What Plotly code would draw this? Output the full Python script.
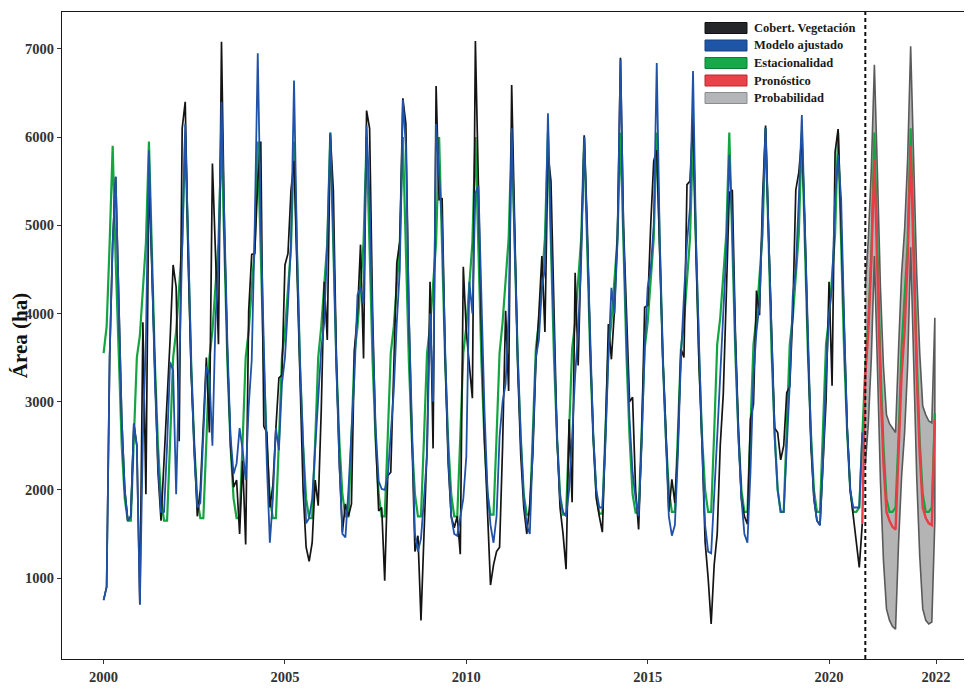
import plotly.graph_objects as go

# ---------------- data (monthly, Jan 2000 - Dec 2020 observed) ----------------
cobertura = [
    750, 900, 3500, 4800, 5550, 4000, 2800, 2000, 1650, 1700, 2750, 2500,   # 2000
    700, 3900, 1950, 5600, 4400, 3100, 2200, 1650, 2300, 3100, 3700, 4550,  # 2001
    4300, 2550, 6100, 6400, 4600, 3300, 2400, 1700, 2000, 2800, 3500, 2650, # 2002
    5700, 4700, 3650, 7080, 4900, 3500, 2500, 2030, 2110, 1500, 2330, 1380, # 2003
    4030, 4670, 4680, 5500, 5950, 2720, 2650, 1800, 2050, 2700, 3270, 3300, # 2004
    4550, 4680, 5400, 5730, 4400, 3000, 2000, 1350, 1190, 1400, 2110, 1820, # 2005
    2900, 4360, 3700, 6030, 5400, 3500, 2300, 1520, 1840, 1700, 1840, 3600, # 2006
    4000, 4780, 3490, 6300, 6100, 4000, 2600, 1760, 1800, 970, 2160, 2200,  # 2007
    3500, 4570, 4820, 6440, 6150, 4000, 2600, 1300, 1480, 520, 1500, 2470,  # 2008
    4360, 2470, 6580, 5290, 5300, 3500, 2300, 1700, 1570, 1700, 1270, 4530, # 2009
    3790, 3400, 3040, 7090, 5300, 3800, 2600, 1700, 920, 1150, 1300, 1350,  # 2010
    2500, 4030, 3120, 6590, 4800, 3400, 2400, 1800, 1500, 1840, 2400, 3440, # 2011
    4000, 4650, 3790, 5820, 5500, 3900, 2600, 1800, 1500, 1100, 2800, 1860, # 2012
    4460, 3410, 4700, 6020, 5000, 3600, 2600, 1900, 1700, 1520, 2600, 3880, # 2013
    3480, 4030, 4900, 6900, 5000, 4000, 3000, 3050, 2000, 1550, 2600, 4070, # 2014
    4090, 5000, 5730, 5850, 4600, 3500, 2700, 1750, 2120, 1850, 2500, 3600, # 2015
    3500, 5460, 5500, 6240, 4700, 3400, 2500, 1410, 1000, 480, 1150, 1500,  # 2016
    2500, 3080, 4200, 5370, 5400, 3800, 2700, 1900, 1700, 1610, 2800, 2970, # 2017
    4260, 3980, 5300, 6130, 4900, 3800, 2700, 2650, 2340, 2500, 3100, 3170, # 2018
    4000, 5400, 5600, 6000, 5000, 3700, 2500, 1900, 1650, 1600, 2300, 3000, # 2019
    4360, 3180, 5830, 6090, 5000, 3700, 2700, 2000, 1700, 1400, 1120, 1620, # 2020
]

modelo = [
    750, 900, 3500, 4800, 5550, 4000, 2800, 2000, 1650, 1700, 2750, 2500,   # 2000
    700, 2600, 3700, 5850, 4600, 3200, 2300, 1750, 1750, 2500, 3450, 3350,  # 2001
    1950, 3400, 4800, 6150, 4800, 3400, 2400, 1800, 1850, 2600, 3400, 3300, # 2002
    2500, 3900, 4600, 6400, 4900, 3600, 2600, 2180, 2300, 2700, 2450, 2110, # 2003
    2950, 3470, 5000, 6950, 5000, 3600, 2300, 1400, 1900, 2700, 2450, 3200, # 2004
    3500, 4100, 4800, 6640, 4700, 3400, 2400, 1620, 1680, 1900, 2470, 3000, # 2005
    3600, 3900, 4800, 6050, 4900, 3400, 2300, 1500, 1460, 2000, 2600, 3300, # 2006
    4210, 4300, 4110, 6130, 5300, 3800, 2700, 2100, 2010, 2000, 2150, 2600, # 2007
    3120, 3900, 4500, 6420, 5900, 4000, 2600, 1500, 1300, 1450, 1900, 2400, # 2008
    4000, 3000, 6150, 5600, 5000, 3600, 2400, 1700, 1500, 1480, 1700, 1900, # 2009
    2380, 4360, 4000, 5360, 5450, 4000, 2900, 2000, 1600, 1400, 1700, 2600, # 2010
    3000, 3200, 4000, 6100, 4800, 3500, 2600, 1900, 1600, 1500, 2500, 3500, # 2011
    3700, 4300, 4500, 6270, 4900, 3600, 2600, 1900, 1750, 1700, 2000, 2600, # 2012
    3300, 3800, 4600, 6000, 4800, 3600, 2600, 2000, 1800, 1800, 2500, 3500, # 2013
    4290, 4000, 4800, 6880, 4900, 3700, 2800, 2200, 1900, 1700, 2500, 3600, # 2014
    4300, 4500, 5000, 6840, 4800, 3500, 2500, 1700, 1480, 1600, 2400, 3500, # 2015
    4200, 4800, 5200, 6750, 4800, 3500, 2500, 1600, 1300, 1280, 1900, 2600, # 2016
    3300, 4000, 4700, 5800, 5000, 3700, 2600, 1900, 1500, 1400, 2200, 3300, # 2017
    3800, 4100, 5000, 6100, 4900, 3700, 2600, 2000, 1750, 1750, 2400, 3200, # 2018
    4200, 4500, 5300, 6250, 5000, 3700, 2600, 1900, 1650, 1600, 2300, 3300, # 2019
    4000, 4300, 5300, 5800, 5300, 3900, 2700, 2000, 1800, 1800, 1800, 2650, # 2020
]

estacionalidad = [
    3550, 3850, 4800, 5900, 4600, 3400, 2500, 1900, 1650, 1650, 2550, 3500, # 2000
    3750, 4300, 4800, 5950, 4600, 3400, 2500, 1900, 1650, 1650, 2550, 3500, # 2001
    3800, 4300, 4800, 6000, 4650, 3400, 2500, 1900, 1680, 1680, 2550, 3500, # 2002
    3800, 4300, 4800, 6000, 4650, 3400, 2500, 1900, 1680, 1680, 2550, 3500, # 2003
    3800, 4300, 4750, 5950, 4650, 3400, 2500, 1900, 1680, 1680, 2550, 3500, # 2004
    3800, 4300, 4750, 5950, 4650, 3400, 2500, 1900, 1680, 1680, 2550, 3500, # 2005
    3850, 4350, 4800, 6050, 4700, 3450, 2550, 1950, 1700, 1700, 2600, 3550, # 2006
    3850, 4350, 4800, 6000, 4700, 3450, 2550, 1950, 1700, 1700, 2600, 3550, # 2007
    3850, 4350, 4800, 6000, 4700, 3450, 2550, 1950, 1700, 1700, 2600, 3550, # 2008
    3850, 4350, 4800, 6000, 4700, 3450, 2550, 1950, 1700, 1700, 2600, 3550, # 2009
    3850, 4350, 4800, 6000, 4700, 3450, 2550, 1950, 1720, 1720, 2600, 3550, # 2010
    3900, 4400, 4850, 6050, 4750, 3500, 2600, 1950, 1720, 1720, 2650, 3600, # 2011
    3900, 4400, 4850, 6050, 4750, 3500, 2600, 1950, 1720, 1720, 2650, 3600, # 2012
    3900, 4400, 4850, 6000, 4750, 3500, 2600, 1950, 1730, 1730, 2650, 3600, # 2013
    3900, 4400, 4850, 6050, 4750, 3500, 2600, 1950, 1740, 1740, 2650, 3600, # 2014
    3900, 4400, 4850, 6050, 4750, 3500, 2600, 2000, 1750, 1750, 2650, 3600, # 2015
    3900, 4400, 4850, 6000, 4750, 3500, 2600, 2000, 1750, 1750, 2650, 3650, # 2016
    3950, 4450, 4900, 6050, 4800, 3550, 2650, 2000, 1750, 1750, 2700, 3650, # 2017
    3950, 4450, 4900, 6100, 4800, 3550, 2650, 2000, 1750, 1750, 2700, 3650, # 2018
    3950, 4450, 4900, 6050, 4800, 3550, 2650, 2000, 1750, 1750, 2700, 3650, # 2019
    3950, 4450, 4900, 6050, 4800, 3550, 2650, 2000, 1750, 1750, 1800, 2600, # 2020
    3400, 3900, 4700, 6050, 4700, 3450, 2500, 1900, 1750, 1750, 1800, 2600, # 2021
    3600, 4200, 4800, 6100, 4750, 3500, 2550, 1950, 1750, 1750, 1800, 2870, # 2022
]

# forecast: Dec 2020 (last observation) then Jan 2021 - Dec 2022
pronostico = [
    1620,
    3300, 3800, 4600, 5750, 4500, 3200, 2300, 1750, 1650, 1580, 1550, 2500, # 2021
    3300, 3800, 4600, 5900, 4600, 3300, 2400, 1800, 1680, 1620, 1600, 2800, # 2022
]
prob_sup = [
    4300, 4850, 5650, 6820, 5600, 4300, 3400, 2850, 2750, 2700, 2650, 3600, # 2021
    4450, 4950, 5750, 7030, 5750, 4450, 3550, 2950, 2850, 2780, 2760, 3950, # 2022
]
prob_inf = [
    2280, 2750, 3500, 4650, 3400, 2100, 1200, 650, 520, 450, 420, 1400,     # 2021
    2150, 2650, 3400, 4750, 3450, 2150, 1250, 650, 520, 480, 500, 1650,     # 2022
]

x_tick_vals = [2000, 2005, 2010, 2015, 2020, 2022.95]
x_tick_text = ["2000", "2005", "2010", "2015", "2020", "2022"]
y_tick_vals = [1000, 2000, 3000, 4000, 5000, 6000, 7000]
forecast_start = 2021.0

legend_names = ["Cobert. Vegetación", "Modelo ajustado", "Estacionalidad",
                "Pronóstico", "Probabilidad"]
legend_fill = ["#25262a", "#1f55a6", "#16a84a", "#e8434b", "#b3b5b8"]
legend_edge = ["#111111", "#16407f", "#0d7d35", "#b8282f", "#8a8c8f"]

# ---------------- time coordinates ----------------
t_obs = [2000 + i / 12 for i in range(len(cobertura))]
t_seas = [2000 + i / 12 for i in range(len(estacionalidad))]
t_fc = [2000 + (len(cobertura) - 1 + i) / 12 for i in range(len(pronostico))]
t_band = t_fc[1:]

C_BLACK = "#141414"
C_BLUE = "#2052a8"
C_GREEN = "#13a53f"
C_RED = "#ea3c46"

fig = go.Figure()

# probability band
fig.add_trace(go.Scatter(
    x=t_band + t_band[::-1], y=prob_sup + prob_inf[::-1],
    fill="toself", fillcolor="#b4b4b4", mode="lines",
    line=dict(color="#5a5a5a", width=1.6), name="Probabilidad",
    showlegend=False, hoverinfo="skip"))

fig.add_trace(go.Scatter(x=t_seas, y=estacionalidad, mode="lines",
                         line=dict(color=C_GREEN, width=2.2),
                         name="Estacionalidad", showlegend=False))
fig.add_trace(go.Scatter(x=t_obs, y=cobertura, mode="lines",
                         line=dict(color=C_BLACK, width=1.7),
                         name="Cobert. Vegetación", showlegend=False))
fig.add_trace(go.Scatter(x=t_obs, y=modelo, mode="lines",
                         line=dict(color=C_BLUE, width=1.8),
                         name="Modelo ajustado", showlegend=False))
fig.add_trace(go.Scatter(x=t_fc, y=pronostico, mode="lines",
                         line=dict(color=C_RED, width=2.4),
                         name="Pronóstico", showlegend=False))

# forecast start dashed line
fig.add_shape(type="line", x0=forecast_start, x1=forecast_start, xref="x",
              y0=0, y1=1, yref="paper",
              line=dict(color="#111111", width=2, dash="4px,3px"), layer="above")

# page body adds an 8px margin, so the figure is sized/placed to compensate
OFF = 8
FIG_W, FIG_H = 972 - OFF, 691 - OFF
PLOT_L, PLOT_R, PLOT_T, PLOT_B = 62 - OFF, 970 - OFF, 12 - OFF, 659 - OFF
W = PLOT_R - PLOT_L
H = PLOT_B - PLOT_T

def px_x(p):
    return (p - OFF - PLOT_L) / W

def px_y(p):
    return (PLOT_B - (p - OFF)) / H

# manual legend (ggplot-like filled keys)
for i, (name, fc, ec) in enumerate(zip(legend_names, legend_fill, legend_edge)):
    cy = 28 + i * 17.5
    fig.add_shape(type="rect", xref="paper", yref="paper",
                  x0=px_x(705), x1=px_x(747), y0=px_y(cy + 5.5), y1=px_y(cy - 5.5),
                  fillcolor=fc, line=dict(color=ec, width=1), layer="above")
    fig.add_annotation(xref="paper", yref="paper", x=px_x(752), y=px_y(cy),
                       xanchor="left", yanchor="middle", text=name, showarrow=False,
                       font=dict(family="Liberation Serif", size=12.5,
                                 color="#1a1a1a", weight="bold"))

fig.update_layout(
    width=FIG_W, height=FIG_H,
    margin=dict(l=PLOT_L, r=FIG_W - PLOT_R, t=PLOT_T, b=FIG_H - PLOT_B),
    paper_bgcolor="white", plot_bgcolor="white",
    showlegend=False,
    font=dict(family="Liberation Serif", size=14, color="#333333"),
)
fig.update_xaxes(range=[1998.853, 2023.886], tickvals=x_tick_vals, ticktext=x_tick_text,
                 automargin=False,
                 showgrid=False, zeroline=False, showline=True, mirror=True,
                 linecolor="#1a1a1a", linewidth=1.2, ticks="outside", ticklen=4,
                 tickcolor="#333333", tickfont=dict(family="Liberation Serif", size=14.5,
                                                    color="#333333", weight="bold"))
fig.update_yaxes(range=[82, 7418], tickvals=y_tick_vals, automargin=False,
                 showgrid=False, zeroline=False, showline=True, mirror=True,
                 linecolor="#1a1a1a", linewidth=1.2, ticks="outside", ticklen=4,
                 tickcolor="#333333",
                 tickfont=dict(family="Liberation Serif", size=14.5, color="#333333",
                               weight="bold"),
                 title=dict(text="Área (ha)", standoff=8,
                            font=dict(family="Liberation Serif", size=21,
                                      color="#111111", weight="bold")))

fig.write_html("out.html")
